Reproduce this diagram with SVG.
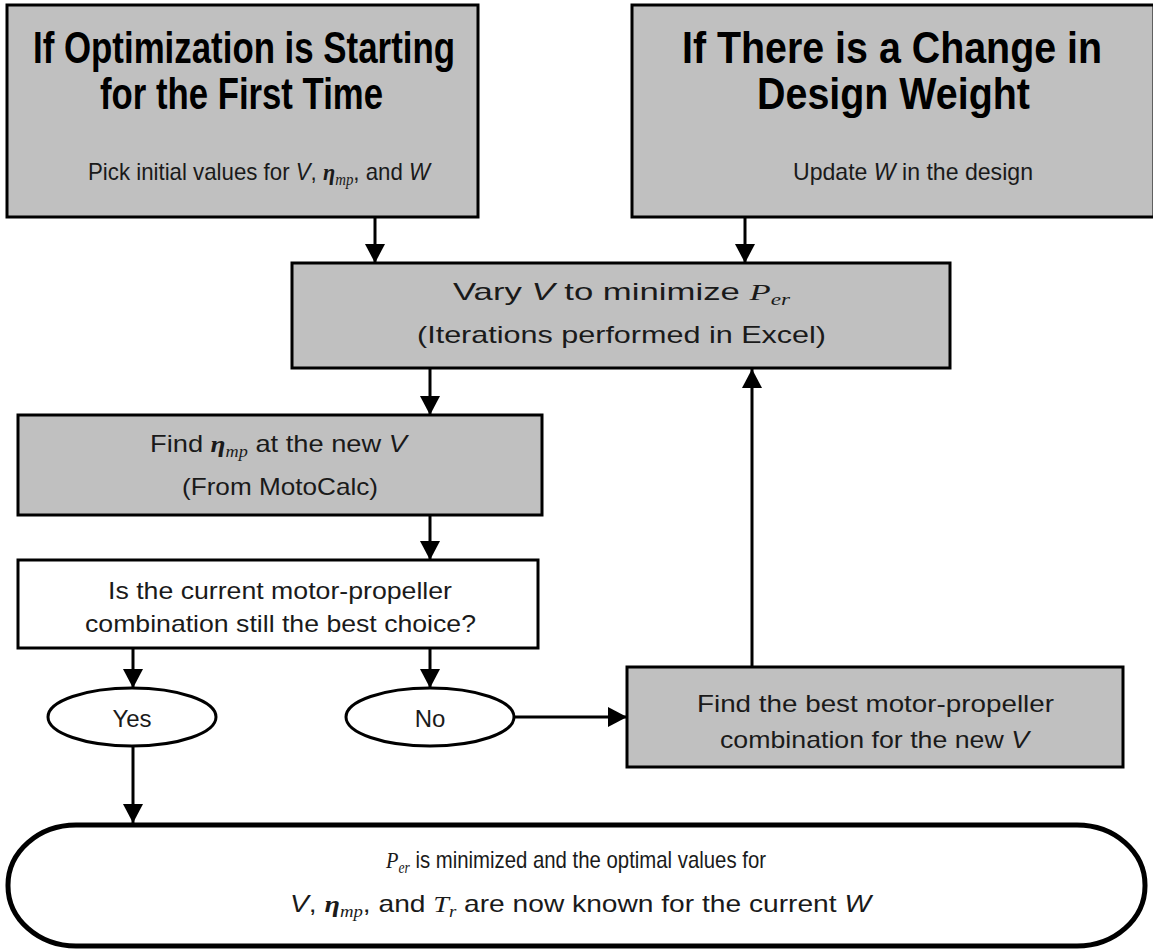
<svg xmlns="http://www.w3.org/2000/svg" width="1153" height="951" viewBox="0 0 1153 951">
<style>
.box{fill:#c0c0c0;stroke:#000;stroke-width:3}
.wbox{fill:#fff;stroke:#000;stroke-width:3}
.t{font-family:"Liberation Sans",Arial,sans-serif;font-weight:bold;font-size:44px;fill:#000}
.b{font-family:"Liberation Sans",Arial,sans-serif;font-size:24px;fill:#1a1a1a}
.i{font-style:italic}
.m{font-family:"Liberation Serif","Times New Roman",serif;font-style:italic;font-weight:bold}
.mn{font-family:"Liberation Serif","Times New Roman",serif;font-style:italic}
.s{font-family:"Liberation Serif","Times New Roman",serif;font-style:italic;font-size:16px}
.c{stroke:#000;stroke-width:3;fill:none}
</style>
<defs>
<marker id="ah" markerUnits="userSpaceOnUse" markerWidth="20" markerHeight="20" refX="19" refY="10" orient="auto">
<path d="M0,0 L19,10 L0,20 Z" fill="#000"/>
</marker>
</defs>
<rect width="1153" height="951" fill="#fff"/>

<g id="n1">
<rect class="box" x="7" y="5" width="471" height="212"/>
<text class="t" x="33" y="63" textLength="422" lengthAdjust="spacingAndGlyphs">If Optimization is Starting</text>
<text class="t" x="100" y="109" textLength="283" lengthAdjust="spacingAndGlyphs">for the First Time</text>
<text class="b" x="88" y="180" textLength="342" lengthAdjust="spacingAndGlyphs">Pick initial values for <tspan class="i">V</tspan>,  <tspan class="m">η</tspan><tspan class="s" dy="5">mp</tspan><tspan dy="-5">, and </tspan><tspan class="i">W</tspan></text>
</g>

<g id="n2">
<rect class="box" x="632" y="5" width="522" height="212"/>
<text class="t" x="682" y="63" textLength="420" lengthAdjust="spacingAndGlyphs">If There is a Change in</text>
<text class="t" x="757" y="109" textLength="273" lengthAdjust="spacingAndGlyphs">Design Weight</text>
<text class="b" x="793" y="180" textLength="240" lengthAdjust="spacingAndGlyphs">Update <tspan class="i">W</tspan> in the design</text>
</g>

<g id="n3">
<rect class="box" x="292" y="263" width="658" height="105"/>
<text class="b" x="453" y="300" textLength="337" lengthAdjust="spacingAndGlyphs">Vary <tspan class="i">V</tspan> to minimize  <tspan class="mn">P</tspan><tspan class="s" dy="5">er</tspan></text>
<text class="b" x="417" y="343" textLength="409" lengthAdjust="spacingAndGlyphs">(Iterations performed in Excel)</text>
</g>

<g id="n4">
<rect class="box" x="18" y="415" width="524" height="100"/>
<text class="b" x="150" y="452" textLength="257" lengthAdjust="spacingAndGlyphs">Find  <tspan class="m">η</tspan><tspan class="s" dy="5">mp</tspan><tspan dy="-5"> at the new </tspan><tspan class="i">V</tspan></text>
<text class="b" x="182" y="495" textLength="196" lengthAdjust="spacingAndGlyphs">(From MotoCalc)</text>
</g>

<g id="n5">
<rect class="wbox" x="18" y="560" width="520" height="88"/>
<text class="b" x="108" y="599" textLength="344" lengthAdjust="spacingAndGlyphs">Is the current motor-propeller</text>
<text class="b" x="85" y="632" textLength="391" lengthAdjust="spacingAndGlyphs">combination still the best choice?</text>
</g>

<g id="n6">
<ellipse class="wbox" cx="132" cy="717" rx="84" ry="29"/>
<text class="b" x="132" y="727" text-anchor="middle">Yes</text>
</g>

<g id="n7">
<ellipse class="wbox" cx="430" cy="717" rx="84" ry="29"/>
<text class="b" x="430" y="727" text-anchor="middle">No</text>
</g>

<g id="n8">
<rect class="box" x="627" y="667" width="496" height="100"/>
<text class="b" x="697" y="712" textLength="357" lengthAdjust="spacingAndGlyphs">Find the best motor-propeller</text>
<text class="b" x="720" y="748" textLength="309" lengthAdjust="spacingAndGlyphs">combination for the new <tspan class="i">V</tspan></text>
</g>

<g id="n9">
<rect x="8" y="825" width="1137" height="121" rx="68" ry="60" fill="#fff" stroke="#000" stroke-width="5"/>
<text class="b" x="386" y="868" textLength="380" lengthAdjust="spacingAndGlyphs"><tspan class="mn">P</tspan><tspan class="s" dy="5">er</tspan><tspan dy="-5"> is minimized and the optimal values for</tspan></text>
<text class="b" x="290" y="912" textLength="581" lengthAdjust="spacingAndGlyphs"><tspan class="i">V</tspan>, <tspan class="m">η</tspan><tspan class="s" dy="5">mp</tspan><tspan dy="-5">, and  </tspan><tspan class="mn">T</tspan><tspan class="s" dy="5">r</tspan><tspan dy="-5"> are now known for the current </tspan><tspan class="i">W</tspan></text>
</g>

<g id="connectors">
<line class="c" x1="375" y1="218" x2="375" y2="263" marker-end="url(#ah)"/>
<line class="c" x1="745" y1="218" x2="745" y2="263" marker-end="url(#ah)"/>
<line class="c" x1="430" y1="369" x2="430" y2="415" marker-end="url(#ah)"/>
<line class="c" x1="430" y1="516" x2="430" y2="560" marker-end="url(#ah)"/>
<line class="c" x1="133" y1="649" x2="133" y2="688" marker-end="url(#ah)"/>
<line class="c" x1="430" y1="649" x2="430" y2="688" marker-end="url(#ah)"/>
<line class="c" x1="514" y1="717" x2="627" y2="717" marker-end="url(#ah)"/>
<line class="c" x1="752" y1="667" x2="752" y2="369" marker-end="url(#ah)"/>
<line class="c" x1="133" y1="746" x2="133" y2="823" marker-end="url(#ah)"/>
</g>
</svg>
